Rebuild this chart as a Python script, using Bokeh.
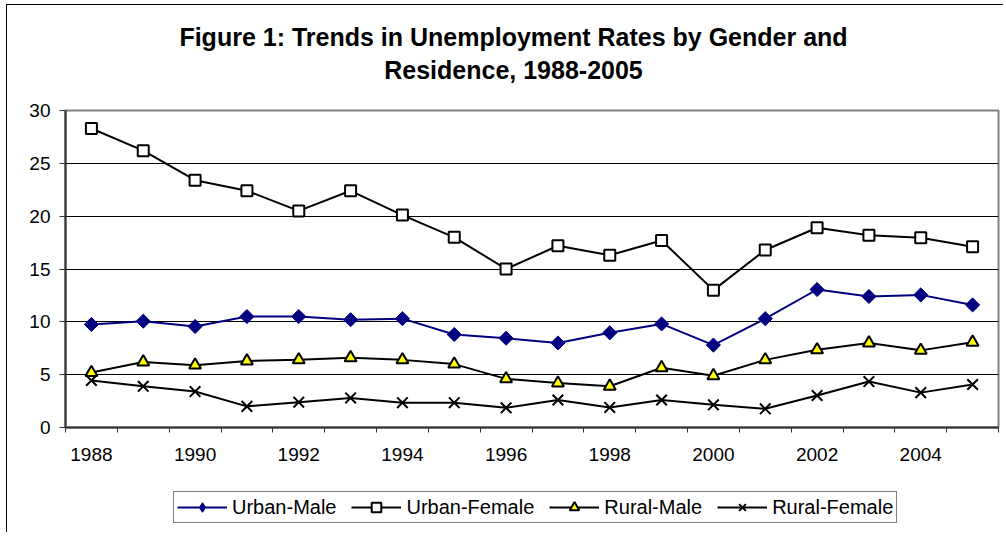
import numpy as np
from bokeh.plotting import figure
from bokeh.layouts import column
from bokeh.models import FixedTicker, Legend, LegendItem, Label, Range1d
from bokeh.embed import file_html
from bokeh.resources import INLINE

years = list(range(1988, 2006))
urban_male = [9.75, 10.06, 9.56, 10.5, 10.5, 10.2, 10.3, 8.8, 8.45, 8.0, 8.96, 9.8, 7.8, 10.3, 13.06, 12.4, 12.55, 11.6]
urban_female = [28.3, 26.2, 23.4, 22.4, 20.5, 22.4, 20.1, 18.0, 15.0, 17.2, 16.3, 17.7, 13.0, 16.8, 18.9, 18.2, 17.95, 17.1]
rural_male = [5.2, 6.2, 5.9, 6.3, 6.4, 6.6, 6.4, 6.0, 4.6, 4.2, 3.9, 5.65, 4.9, 6.4, 7.35, 8.0, 7.3, 8.07]
rural_female = [4.45, 3.9, 3.4, 2.0, 2.4, 2.8, 2.35, 2.35, 1.86, 2.6, 1.9, 2.6, 2.15, 1.77, 3.03, 4.35, 3.3, 4.07]
series_names = ["Urban-Male", "Urban-Female", "Rural-Male", "Rural-Female"]
x_tick_years = [1988, 1990, 1992, 1994, 1996, 1998, 2000, 2002, 2004]
y_ticks = [0, 5, 10, 15, 20, 25, 30]
title_lines = ["Figure 1: Trends in Unemployment Rates by Gender and", "Residence, 1988-2005"]

FONT = "Liberation Sans"
OX, OY = 7, 5            # page offset of the layout content (margin + border)
W = 996
FL, FR = 65, 998         # page x of plot frame left/right
TOP_STRIP = 90           # page y 5..95
H1 = 375                 # page y 95..470
H2 = 62                  # page y 470..532

# ---------------- title strip ----------------
pt = figure(width=W, height=TOP_STRIP, output_backend="svg", toolbar_location=None,
            x_range=Range1d(FL, FR), y_range=Range1d(OY + TOP_STRIP, OY),
            x_axis_type=None, y_axis_type=None,
            min_border_left=FL - OX, min_border_right=W - (FR - OX), min_border_top=0, min_border_bottom=0)
pt.outline_line_color = None
pt.grid.visible = False
for txt, yb in zip(title_lines, [36.2, 69.7]):
    pt.add_layout(Label(x=513, y=yb, text=txt, text_align="center", text_baseline="alphabetic",
                        text_font=FONT, text_font_size="25px", text_font_style="bold",
                        text_color="black"))

# ---------------- main chart ----------------
p = figure(width=W, height=H1, output_backend="svg", toolbar_location=None,
           x_range=Range1d(years[0] - 0.5, years[-1] + 0.5),
           y_range=Range1d(0, 30),
           min_border_left=FL - OX, min_border_right=W - (FR - OX),
           min_border_top=110 - (OY + TOP_STRIP), min_border_bottom=(OY + TOP_STRIP + H1) - 427)
p.background_fill_color = "white"
p.border_fill_color = "white"
p.outline_line_color = "#808080"
p.outline_line_width = 2

xa = p.xaxis[0]
xa.ticker = FixedTicker(ticks=x_tick_years, minor_ticks=[y - 0.5 for y in years] + [years[-1] + 0.5])
xa.major_tick_line_color = None
xa.major_tick_out = 5
xa.major_tick_in = 0
xa.minor_tick_line_color = "#303030"
xa.minor_tick_line_width = 1
xa.minor_tick_out = 5
xa.minor_tick_in = 0
xa.axis_line_color = "#303030"
xa.axis_line_width = 2
xa.major_label_text_font = FONT
xa.major_label_text_font_size = "19px"
xa.major_label_text_color = "black"
xa.major_label_standoff = 15

ya = p.yaxis[0]
ya.ticker = FixedTicker(ticks=y_ticks)
ya.minor_tick_line_color = None
ya.major_tick_line_color = "#303030"
ya.major_tick_out = 6
ya.major_tick_in = 0
ya.axis_line_color = "#303030"
ya.axis_line_width = 2
ya.major_label_text_font = FONT
ya.major_label_text_font_size = "19px"
ya.major_label_text_color = "black"
ya.major_label_standoff = 9

p.xgrid.visible = False
p.ygrid.ticker = FixedTicker(ticks=[5, 10, 15, 20, 25])
p.ygrid.grid_line_color = "black"
p.ygrid.grid_line_width = 1

styles = [
    dict(line_color="#000080", marker="square", angle=np.pi / 4, size=10,
         fill_color="#000080", mline="#000080", mwidth=1, legend_marker="diamond"),
    dict(line_color="black", marker="square", angle=0, size=11,
         fill_color="white", mline="black", mwidth=2, legend_marker="square"),
    dict(line_color="black", marker="triangle", angle=0, size=12,
         fill_color="#FFFF00", mline="black", mwidth=2, legend_marker="triangle"),
    dict(line_color="black", marker="x", angle=0, size=15,
         fill_color=None, mline="black", mwidth=2, legend_marker="x"),
]
series = [urban_male, urban_female, rural_male, rural_female]

for vals, st in zip(series, styles):
    p.line(years, vals, line_color=st["line_color"], line_width=2)
    p.scatter(years, vals, marker=st["marker"], angle=st["angle"], size=st["size"],
              fill_color=st["fill_color"], line_color=st["mline"], line_width=st["mwidth"])

# ---------------- legend strip ----------------
pl = figure(width=W, height=H2, output_backend="svg", toolbar_location=None,
            x_range=Range1d(0, 1), y_range=Range1d(0, 1),
            x_axis_type=None, y_axis_type=None,
            min_border_left=FL - OX, min_border_right=W - (FR - OX), min_border_top=0, min_border_bottom=0)
pl.outline_line_color = None
pl.grid.visible = False
items = []
for name, st in zip(series_names, styles):
    lr = pl.line([-5, -4], [-5, -4], line_color=st["line_color"], line_width=2)
    sr = pl.scatter([-5], [-5], marker=st["legend_marker"], size=st["size"],
                    fill_color=st["fill_color"], line_color=st["mline"], line_width=st["mwidth"])
    items.append(LegendItem(label=name, renderers=[lr, sr]))

legend = Legend(items=items, orientation="horizontal",
                location=(173 - FL, (OY + TOP_STRIP + H1 + H2) - 523),
                label_text_font=FONT, label_text_font_size="20px", label_text_color="black",
                glyph_width=50, glyph_height=24, label_standoff=5, spacing=15,
                padding=3, margin=0, border_line_color="black", border_line_width=1,
                background_fill_color="white", background_fill_alpha=1.0)
pl.add_layout(legend, "center")

layout = column(pt, p, pl, spacing=0,
                styles={"border-left": "1px solid black", "border-top": "1px solid black"})
layout.margin = (4, 0, 0, 6)

open("out.html", "w").write(file_html(layout, INLINE))
